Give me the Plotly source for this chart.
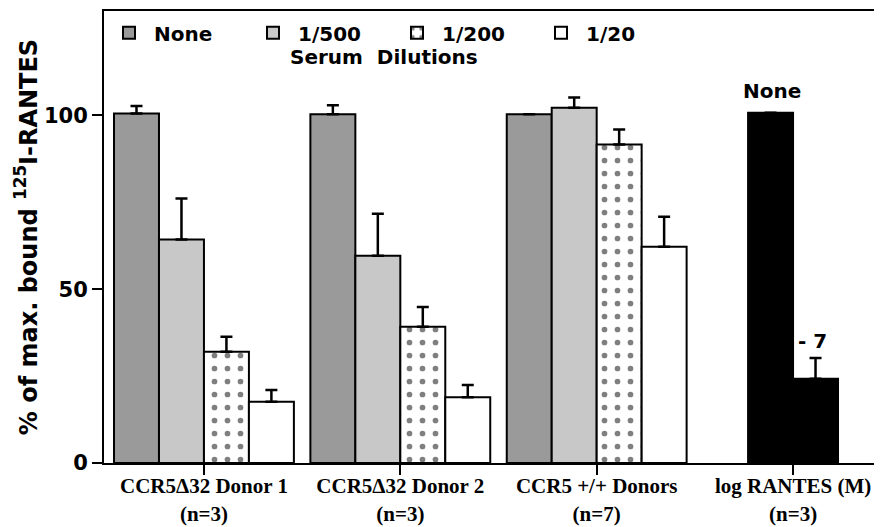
import plotly.graph_objects as go

# ---- data ----
categories = ["CCR5Δ32 Donor 1", "CCR5Δ32 Donor 2", "CCR5 +/+ Donors", "log RANTES (M)"]
n_labels = ["(n=3)", "(n=3)", "(n=7)", "(n=3)"]
serum_groups = categories[:3]
dilutions = ["None", "1/500", "1/200", "1/20"]

none_vals = [100.5, 100.3, 100.3]
none_err = [2.2, 2.6, 0.0]
d500_vals = [64.3, 59.6, 102.2]
d500_err = [11.8, 12.1, 2.9]
d200_vals = [32.0, 39.2, 91.6]
d200_err = [4.3, 5.7, 4.3]
d20_vals = [17.6, 18.9, 62.2]
d20_err = [3.4, 3.5, 8.6]

rantes_labels = ["None", "- 7"]
rantes_vals = [100.7, 24.2]
rantes_err = [0.0, 6.0]

y_ticks = [0, 50, 100]

# ---- styling ----
BW = 0.229  # bar width in category units
SANS = "DejaVu Sans, Arial, sans-serif"
SERIF = "Liberation Serif, Times New Roman, serif"

series = [
    ("None", none_vals, none_err, "#9a9a9a", ""),
    ("1/500", d500_vals, d500_err, "#c8c8c8", ""),
    ("1/200", d200_vals, d200_err, "#ffffff", "."),
    ("1/20", d20_vals, d20_err, "#ffffff", ""),
]

fig = go.Figure()
for i, (name, vals, errs, col, pat) in enumerate(series):
    marker = dict(color=col, line=dict(color="black", width=2))
    if pat:
        marker["pattern"] = dict(shape=pat, fgcolor="black", bgcolor="white",
                                 size=13, solidity=0.15, fillmode="overlay")
    fig.add_trace(go.Bar(
        name=name, x=serum_groups, y=vals,
        offset=(i - 2) * BW, width=BW,
        marker=marker,
        error_y=dict(type="data", array=errs, arrayminus=[0] * len(errs),
                     symmetric=False, color="black", thickness=2.5, width=6),
    ))

fig.add_trace(go.Bar(
    name="log RANTES", x=[categories[3]] * 2, y=rantes_vals,
    offset=[-BW, 0], width=BW, showlegend=False,
    marker=dict(color="black", line=dict(color="black", width=2)),
    error_y=dict(type="data", array=rantes_err, arrayminus=[0, 0],
                 symmetric=False, color="black", thickness=2.5, width=6),
))

# labels on the RANTES bars
px_per_unit = 196.4
fig.add_annotation(x=categories[3], y=rantes_vals[0], text=rantes_labels[0],
                   xshift=-BW / 2 * px_per_unit + 1, yshift=8, yanchor="bottom",
                   showarrow=False, font=dict(family=SANS, size=20, color="black", weight="bold"))
fig.add_annotation(x=categories[3], y=rantes_vals[1] + rantes_err[1], text=rantes_labels[1],
                   xshift=BW / 2 * px_per_unit - 3, yshift=3, yanchor="bottom",
                   showarrow=False, font=dict(family=SANS, size=20, color="black", weight="bold"))

fig.add_annotation(x=0.36, y=0.898, xref="paper", yref="paper", text="Serum  Dilutions",
                   xanchor="center", yanchor="middle",
                   showarrow=False, font=dict(family=SANS, size=20, color="black", weight="bold"))

# the page body has an 8px margin: figure is 874x519 placed at (8, 8)
fig.update_layout(
    width=874, height=519,
    margin=dict(l=96, r=0, t=3, b=64, autoexpand=False),
    paper_bgcolor="white", plot_bgcolor="white",
    barmode="overlay",
    showlegend=True,
    legend=dict(orientation="h", x=0.0, y=0.995, xanchor="left", yanchor="top",
                bgcolor="rgba(0,0,0,0)", borderwidth=0,
                itemwidth=40,
                entrywidthmode="pixels", entrywidth=89,
                font=dict(family=SANS, size=20, color="black", weight="bold")),
    xaxis=dict(
        type="category", categoryorder="array", categoryarray=categories,
        range=[-0.509, 3.453], automargin=False,
        tickvals=categories,
        ticktext=[f"{c}<br>{n}" for c, n in zip(categories, n_labels)],
        ticks="outside", ticklen=10, tickwidth=2, tickcolor="black",
        ticklabelstandoff=-7,
        showline=True, linecolor="black", linewidth=2, mirror=True,
        showgrid=False, zeroline=False,
        tickfont=dict(family=SERIF, size=21, color="black", weight="bold"),
    ),
    yaxis=dict(
        range=[0, 130], tickvals=y_ticks, automargin=False,
        ticks="outside", ticklen=10, tickwidth=2, tickcolor="black",
        showline=True, linecolor="black", linewidth=2, mirror=False,
        showgrid=False, zeroline=False,
        tickfont=dict(family=SANS, size=21, color="black", weight="bold"),
        title=dict(text="% of max. bound <sup>125</sup>I-RANTES", standoff=0,
                   font=dict(family=SANS, size=24, color="black", weight="bold")),
    ),
)

fig.write_html("out.html")
